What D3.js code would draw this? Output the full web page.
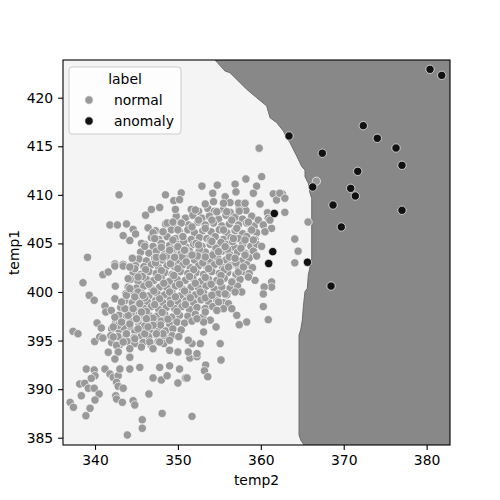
<!DOCTYPE html>
<html>
<head>
<meta charset="utf-8">
<script src="https://cdn.jsdelivr.net/npm/d3@7"></script>
<style>
  body { margin: 0; background: #fff; }
  svg { display: block; font-family: "DejaVu Sans", sans-serif; }
</style>
</head>
<body>
<div id="chart"></div>
<script>
// ---- Data ----
const xTicks = [340, 350, 360, 370, 380];
const yTicks = [385, 390, 395, 400, 405, 410, 415, 420];
const xDomain = [336.14, 382.82];
const yDomain = [384.25, 423.88];
const legendLabels = ["normal", "anomaly"];

// Decision boundary between the "normal" region (left) and the "anomaly" region (right): [temp2, temp1]
const boundary = [
  [354.48, 423.88], [355.68, 422.75], [356.28, 422.57], [357.29, 421.72], [358.3, 420.86],
  [359.5, 420.0], [360.71, 419.15], [361.11, 417.94], [361.92, 417.43], [362.72, 416.57],
  [363.13, 415.88], [363.52, 415.37], [363.92, 414.69], [364.33, 414.0], [364.73, 413.28],
  [364.94, 412.9], [365.33, 412.56], [365.33, 411.87], [365.73, 411.19], [365.94, 410.16],
  [366.14, 409.64], [366.14, 403.29], [365.94, 402.6], [365.73, 401.75], [365.61, 400.38],
  [365.33, 400.03], [365.13, 398.49], [365.01, 397.12], [364.81, 396.09], [364.61, 395.57],
  [364.61, 385.28], [364.81, 384.77], [365.21, 384.25]
];

// Anomaly points [temp2, temp1]
const anomalyPoints = [
  [380.41, 422.92], [381.82, 422.3], [372.36, 417.12], [374.05, 415.82], [376.31, 414.82],
  [363.4, 416.06], [367.42, 414.28], [377.03, 413.04], [371.69, 412.42], [366.26, 410.81],
  [370.84, 410.67], [371.4, 409.88], [368.71, 408.95], [377.03, 408.41], [369.71, 406.69],
  [361.63, 408.08], [361.44, 404.15], [360.95, 402.93], [365.63, 403.06], [368.47, 400.61]
];

// Normal points: outer / scattered ones [temp2, temp1]
const normalOuter = [
  [342.9,410.0],[348.5,410.0],[350.4,410.2],[349.5,409.4],[350.2,409.5],[347.8,408.7],[346.8,408.5],
  [349.7,408.5],[346.1,407.9],[341.8,406.9],[342.7,406.9],[343.8,407.0],[344.6,406.45],[343.4,405.8],
  [344.2,405.3],[344.9,405.97],[345.6,405.0],[346.0,404.7],[346.4,406.6],[347.0,406.1],[347.2,405.5],
  [348.0,404.6],[348.2,406.2],[348.7,407.1],[349.4,407.2],[350.4,407.1],[339.1,403.57],[344.5,403.47],
  [350.0,406.4],[350.6,405.7],[349.4,405.35],[350.0,404.66],[350.8,404.3],[349.0,404.3],[347.4,403.57],
  [348.2,403.6],[349.6,403.57],[342.4,402.88],[343.4,402.85],
  [360.1,411.87],[358.2,411.63],[356.9,411.1],[354.75,411.0],[352.9,410.9],[359.5,410.9],[354.2,410.16],
  [357.0,410.3],[359.1,410.16],[361.5,410.1],[362.6,410.1],[361.9,409.47],[355.7,409.8],[354.3,409.3],
  [356.3,409.2],[355.5,409.13],[353.3,409.06],[357.3,409.13],[358.1,409.13],[359.9,409.06],[352.1,408.44],
  [354.7,408.26],[355.9,408.26],[357.4,408.33],[360.8,408.16],[362.9,408.2],[352.5,407.4],[354.1,407.4],
  [356.5,407.4],[358.5,407.2],[359.7,407.4],[360.9,407.58],[360.3,406.9],[361.3,406.55],[358.9,406.38],
  [360.5,406.2],[357.1,406.55],[355.5,406.38],[353.3,406.55],[351.7,406.7],[359.1,405.35],[358.1,405.35],
  [356.7,405.5],[364.1,405.45],[365.7,407.2],[360.1,404.7],[364.5,404.2],[359.5,403.7],[358.1,403.8],
  [364.1,403.0],[355.7,404.66],[354.9,404.15],[354.1,405.2],[352.5,404.84],[351.7,403.8],[353.3,403.6],
  [356.9,403.47],[359.8,414.8],[362.3,410.16],[362.9,409.65],[361.1,407.4],[366.7,411.4],
  [338.55,400.95],[340.95,401.78],[341.6,402.06],[342.4,402.67],[343.4,402.67],[342.45,400.6],[339.3,399.66],
  [339.9,399.15],[342.4,399.3],[341.2,398.56],[341.3,397.94],[341.97,398.1],[342.4,397.4],[340.25,396.81],
  [340.76,396.29],[337.35,395.95],[337.95,395.7],[339.96,394.9],[340.57,395.37],[340.95,395.26],[342.2,395.37],
  [341.6,393.8],[342.6,394.5],[343.4,396.4],[342.8,396.57],[342.2,396.4],[343.2,396.9],[344.2,396.7],
  [344.0,397.6],[343.6,398.28],[343.2,398.97],[343.8,399.66],[344.2,400.34],[344.0,401.37],[344.8,402.4],
  [344.2,402.57],[345.2,401.54],[344.8,399.49],[345.4,398.8],[345.8,399.66],[344.6,398.28],[345.6,397.94],
  [345.0,397.25],[346.2,397.25],[345.2,396.2],[343.8,395.7],[344.8,395.19],[346.0,395.7],[343.4,394.85],
  [344.2,394.16],[345.6,394.33],[342.8,393.82],[346.6,394.85],[347.0,394.16],[347.8,394.85],[348.2,395.7],
  [349.0,395.03],[350.0,393.82],[349.0,394.0],[347.4,395.7],[347.0,396.57],[346.4,396.4],
  [338.95,392.07],[339.9,391.97],[340.0,391.38],[339.55,391.11],[338.15,390.53],[338.76,390.6],[339.2,390.09],
  [339.9,390.09],[338.35,389.32],[340.5,389.5],[337.0,388.64],[337.4,388.13],[340.0,388.88],[339.4,388.03],
  [338.9,387.26],[341.2,392.07],[341.8,391.56],[342.2,391.22],[342.8,391.38],[342.6,390.7],[342.8,390.29],
  [343.4,390.09],[342.5,389.32],[342.6,388.98],[343.3,388.64],[344.6,388.81],[344.8,388.37],[346.5,389.5],
  [348.1,387.5],[345.7,386.85],[345.7,385.97],[343.9,385.28],[347.0,391.15],[348.0,390.94],[348.7,391.38],
  [350.0,390.63],[350.9,391.15],[343.0,392.07],[344.2,392.07],[345.4,392.24],[342.4,393.1],[344.2,393.28],
  [347.8,392.24],[349.0,392.4],[350.2,392.07],
  [351.45,393.2],[352.3,393.34],[355.2,393.0],[353.35,392.48],[353.2,391.9],[353.6,391.28],[351.1,391.15],
  [351.7,387.2],
  [361.3,401.03],[361.3,400.51],[360.4,400.51],[360.3,399.8],[360.3,398.5],[360.9,397.15],[358.3,396.91],
  [357.4,396.63],[354.6,396.4],[355.1,394.68],[357.1,397.6],[359.3,401.2],[358.5,401.54],[357.7,400.0],
  [356.9,400.0],[356.1,398.8],[355.5,398.28],[356.5,398.28],[353.9,397.1],[353.1,396.91],[352.3,397.25],
  [353.1,395.88],[352.7,394.68],[351.7,394.68],[351.25,395.03],[352.3,393.65],[351.25,393.82],[353.3,397.94],
  [354.7,398.1],[354.9,398.97],[354.1,399.66],[355.7,399.8],[356.5,401.03],[355.1,401.03],[357.3,402.06],
  [357.9,402.57],[356.1,402.57]
];

// Normal points: dense core of the cluster [temp2, temp1]
const normalCore = [
  [351.6,408.5],[352.5,408.3],[353.6,408.6],[354.4,408.3],[355.5,408.5],[356.3,408.2],[357.4,408.6],[358.2,408.4],
  [349.8,407.8],[350.9,407.6],[351.8,407.9],[352.9,407.6],[353.8,407.8],[354.9,407.5],[355.8,407.9],[356.9,407.7],[357.8,407.5],[358.9,407.8],
  [348.5,407.0],[349.4,406.8],[350.4,407.1],[351.3,406.9],[352.4,407.2],[353.3,406.9],[354.3,407.1],[355.3,406.8],[356.2,407.0],[357.3,406.9],[358.3,407.1],[359.2,406.8],
  [347.3,406.3],[348.3,406.1],[349.2,406.4],[350.2,406.2],[351.2,406.4],[352.0,406.1],[353.0,406.3],[354.0,406.2],[355.0,406.4],[355.9,406.1],[356.9,406.3],[357.8,406.0],[358.8,406.3],[359.5,406.1],
  [346.8,405.6],[347.7,405.4],[348.7,405.7],[349.7,405.5],[350.6,405.7],[351.6,405.4],[352.6,405.6],[353.5,405.5],[354.5,405.7],[355.5,405.4],[356.4,405.6],[357.3,405.5],[358.3,405.7],[359.3,405.4],
  [346.0,404.9],[347.0,404.7],[348.0,405.0],[349.0,404.8],[350.0,404.9],[351.0,404.6],[351.9,404.9],[352.9,404.7],[353.9,404.9],[354.9,404.7],[355.8,404.9],[356.8,404.6],[357.8,404.9],[358.8,404.7],[359.5,404.9],
  [345.5,404.1],[346.5,404.0],[347.4,404.2],[348.4,403.9],[349.4,404.1],[350.4,404.0],[351.4,404.2],[352.3,403.9],[353.3,404.1],[354.3,404.0],[355.3,404.2],[356.2,403.9],[357.2,404.1],[358.1,404.0],[359.1,404.2],
  [345.3,403.4],[346.2,403.2],[347.2,403.5],[348.1,403.3],[349.1,403.4],[350.0,403.2],[351.0,403.5],[352.0,403.3],[352.9,403.4],[353.9,403.2],[354.8,403.5],[355.8,403.3],[356.7,403.4],[357.7,403.2],[358.6,403.5],
  [344.9,402.7],[345.9,402.6],[346.8,402.8],[347.7,402.5],[348.7,402.7],[349.6,402.6],[350.6,402.8],[351.5,402.5],[352.5,402.7],[353.5,402.6],[354.4,402.8],[355.4,402.5],[356.3,402.7],[357.3,402.6],[358.3,402.8],[359.0,402.5],
  [344.6,402.0],[345.5,401.8],[346.5,402.1],[347.4,401.9],[348.4,402.0],[349.3,401.8],[350.3,402.1],[351.2,401.9],[352.2,402.0],[353.1,401.8],[354.1,402.1],[355.0,401.9],[356.0,402.0],[357.0,401.8],[357.9,402.1],[358.6,401.9],
  [344.3,401.3],[345.2,401.1],[346.2,401.3],[347.1,401.2],[348.0,401.4],[349.0,401.1],[349.9,401.3],[350.9,401.2],[351.8,401.4],[352.8,401.1],[353.7,401.3],[354.7,401.2],[355.6,401.4],[356.6,401.1],[357.5,401.3],
  [344.0,400.5],[345.0,400.4],[345.9,400.6],[346.9,400.3],[347.8,400.5],[348.7,400.4],[349.7,400.6],[350.6,400.3],[351.6,400.5],[352.5,400.4],[353.4,400.6],[354.4,400.3],[355.3,400.5],[356.3,400.4],[357.2,400.6],
  [343.7,399.8],[344.7,399.7],[345.6,399.9],[346.5,399.6],[347.5,399.8],[348.4,399.7],[349.3,399.9],[350.3,399.6],[351.2,399.8],[352.1,399.7],[353.1,399.9],[354.0,399.6],[354.9,399.8],[355.9,399.7],
  [343.6,399.1],[344.5,398.9],[345.4,399.2],[346.3,399.0],[347.3,399.1],[348.2,398.9],[349.1,399.2],[350.0,399.0],[351.0,399.1],[351.9,398.9],[352.8,399.2],[353.7,399.0],[354.7,399.1],[355.5,398.9],
  [343.1,398.4],[344.0,398.2],[344.9,398.4],[345.9,398.3],[346.8,398.5],[347.7,398.2],[348.6,398.4],[349.6,398.3],[350.5,398.5],[351.4,398.2],[352.3,398.4],[353.3,398.3],[354.2,398.5],
  [342.9,397.6],[343.8,397.5],[344.7,397.7],[345.6,397.4],[346.5,397.6],[347.5,397.5],[348.4,397.7],[349.3,397.4],[350.2,397.6],[351.2,397.5],[352.1,397.7],[353.0,397.4],
  [342.5,396.9],[343.4,396.8],[344.3,397.0],[345.3,396.7],[346.2,396.9],[347.1,396.8],[348.0,397.0],[349.0,396.7],[349.9,396.9],[350.8,396.8],[351.7,397.0],
  [342.0,396.2],[342.9,396.1],[343.9,396.3],[344.8,396.0],[345.7,396.2],[346.6,396.1],[347.6,396.3],[348.5,396.0],[349.4,396.2],[350.4,396.1],
  [341.9,395.5],[342.8,395.4],[343.7,395.6],[344.7,395.3],[345.6,395.5],[346.5,395.4],[347.4,395.6],[348.4,395.3],[349.3,395.5],[350.1,395.4],
  [342.0,394.8],[343.0,394.6],[343.9,394.9],[344.8,394.7],[345.8,394.8],[346.7,394.6],[347.6,394.9],[348.3,394.7]
];

// Normal points: extra overlapping ones in the densest middle of the cluster [temp2, temp1]
const normalDense = [
  [350.7,405.2],[352.2,405.0],[353.9,405.3],[355.2,405.1],[356.6,405.2],[349.3,404.4],[350.9,404.3],
  [352.6,404.4],[354.6,404.5],[356.0,404.4],[357.6,404.5],[348.6,403.7],[350.5,403.6],[352.4,403.7],
  [354.2,403.8],[356.2,403.6],[347.3,403.0],[349.1,402.9],[351.0,403.1],[353.0,403.0],[355.0,403.1],
  [357.0,403.0],[346.1,402.3],[348.0,402.2],[350.0,402.4],[351.9,402.3],[353.7,402.4],[355.6,402.3],
  [345.7,401.6],[347.6,401.5],[349.5,401.7],[351.4,401.6],[353.3,401.5],[355.2,401.7],[346.5,400.8],
  [348.3,400.9],[350.2,400.8],[352.1,400.9],[354.0,400.8],[345.2,400.0],[347.1,400.1],[349.0,400.0],
  [350.8,400.1],[352.7,400.0],[346.0,399.4],[347.8,399.3],[349.7,399.5],[351.5,399.4],[353.3,399.4],
  [345.3,398.7],[347.2,398.7],[349.1,398.8],[350.9,398.7],[344.4,397.9],[346.2,398.0],[348.1,397.9],
  [349.9,398.0],[345.1,397.2],[347.0,397.3],[348.8,397.2],[344.2,396.5],[346.0,396.5],[347.9,396.6]
];

// ---- Layout ----
const W = 500, H = 500;
const margin = { left: 63, right: 50, top: 60, bottom: 55 };
const colors = { normal: "#999999", anomaly: "#111111", lightRegion: "#f4f4f4", darkRegion: "#888888", edge: "#6e6e6e" };
const fontSize = 13.9;

const svg = d3.select("#chart").append("svg").attr("width", W).attr("height", H);

const x = d3.scaleLinear().domain(xDomain).range([margin.left, W - margin.right]);
const y = d3.scaleLinear().domain(yDomain).range([H - margin.bottom, margin.top]);

const clipId = "plotclip";
svg.append("clipPath").attr("id", clipId).append("rect")
  .attr("x", x.range()[0]).attr("y", y.range()[1])
  .attr("width", x.range()[1] - x.range()[0]).attr("height", y.range()[0] - y.range()[1]);

const plot = svg.append("g").attr("clip-path", `url(#${clipId})`);

// light (normal) region
plot.append("rect")
  .attr("x", x.range()[0]).attr("y", y.range()[1])
  .attr("width", x.range()[1] - x.range()[0]).attr("height", y.range()[0] - y.range()[1])
  .attr("fill", colors.lightRegion);

// dark (anomaly) region
const regionPoly = boundary.concat([[xDomain[1], yDomain[0]], [xDomain[1], yDomain[1]]]);
plot.append("path")
  .attr("d", d3.line().x(d => x(d[0])).y(d => y(d[1]))(regionPoly) + "Z")
  .attr("fill", colors.darkRegion);

plot.append("path")
  .attr("d", d3.line().x(d => x(d[0])).y(d => y(d[1]))(boundary))
  .attr("fill", "none").attr("stroke", colors.edge).attr("stroke-width", 1);

// points
const r = 4.17;
const normals = normalCore.concat(normalDense, normalOuter);
plot.append("g").selectAll("circle").data(normals).join("circle")
  .attr("cx", d => x(d[0])).attr("cy", d => y(d[1])).attr("r", r)
  .attr("fill", colors.normal).attr("stroke", "#ffffff").attr("stroke-width", 0.67);

plot.append("g").selectAll("circle").data(anomalyPoints).join("circle")
  .attr("cx", d => x(d[0])).attr("cy", d => y(d[1])).attr("r", r)
  .attr("fill", colors.anomaly).attr("stroke", "#ffffff").attr("stroke-width", 0.67);

// axes
const xAxis = svg.append("g").attr("transform", `translate(0,${y.range()[0]})`)
  .call(d3.axisBottom(x).tickValues(xTicks).tickSize(4.9).tickPadding(4.9).tickFormat(d3.format("d")));
const yAxis = svg.append("g").attr("transform", `translate(${x.range()[0]},0)`)
  .call(d3.axisLeft(y).tickValues(yTicks).tickSize(4.9).tickPadding(4.9).tickFormat(d3.format("d")));
[xAxis, yAxis].forEach(a => {
  a.selectAll("text").attr("font-size", fontSize).attr("font-family", "DejaVu Sans").attr("fill", "#000");
  a.selectAll("line").attr("stroke", "#000").attr("stroke-width", 1.1);
  a.select(".domain").remove();
});

// frame
svg.append("rect")
  .attr("x", x.range()[0]).attr("y", y.range()[1])
  .attr("width", x.range()[1] - x.range()[0]).attr("height", y.range()[0] - y.range()[1])
  .attr("fill", "none").attr("stroke", "#000").attr("stroke-width", 1.1);

// axis labels
svg.append("text").attr("x", (x.range()[0] + x.range()[1]) / 2).attr("y", 485)
  .attr("text-anchor", "middle").attr("font-size", fontSize).text("temp2");
svg.append("text").attr("transform", `translate(19,${(y.range()[0] + y.range()[1]) / 2}) rotate(-90)`)
  .attr("text-anchor", "middle").attr("font-size", fontSize).text("temp1");

// legend
const lg = svg.append("g");
lg.append("rect").attr("x", 69).attr("y", 67).attr("width", 112).attr("height", 67).attr("rx", 3)
  .attr("fill", "#ffffff").attr("fill-opacity", 0.8).attr("stroke", "#cccccc").attr("stroke-width", 1);
lg.append("text").attr("x", 125).attr("y", 79).attr("dominant-baseline", "central")
  .attr("text-anchor", "middle").attr("font-size", fontSize).text("label");
const legendColors = [colors.normal, colors.anomaly];
legendLabels.forEach((lab, i) => {
  const cy = 100 + i * 21;
  lg.append("circle").attr("cx", 89).attr("cy", cy).attr("r", r)
    .attr("fill", legendColors[i]).attr("stroke", "#fff").attr("stroke-width", 0.67);
  lg.append("text").attr("x", 114).attr("y", cy).attr("dominant-baseline", "central")
    .attr("font-size", fontSize).text(lab);
});
</script>
</body>
</html>
